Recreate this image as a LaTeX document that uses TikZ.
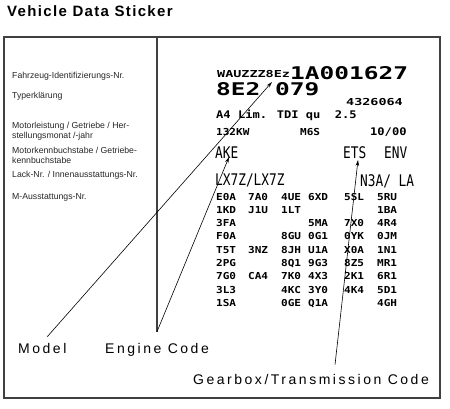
\documentclass[tikz,border=0pt]{standalone}
\usepackage{fontspec}
\setmainfont{Liberation Sans}
\newfontfamily\stickerwide[FakeStretch=1.4]{DejaVu Sans Mono}
\newfontfamily\stickerfont[FakeStretch=1.15]{DejaVu Sans Mono}
\newfontfamily\stickertall[FakeStretch=0.8]{DejaVu Sans Mono}
\usetikzlibrary{arrows.meta,positioning,calc}
\tikzset{
  heading/.style ={font=\fontsize{15}{18}\selectfont\bfseries\addfontfeature{LetterSpace=9},
                   anchor=base west, inner sep=0pt},
  fieldname/.style={font=\fontsize{8.7}{10}\selectfont, text=black!85, align=left,
                   anchor=north west, inner sep=0pt},
  widebig/.style ={font=\stickerwide\bfseries\fontsize{17.5}{19}\selectfont, anchor=base west, inner sep=0pt},
  widesm/.style  ={font=\stickerwide\bfseries\fontsize{9.6}{11}\selectfont, anchor=base west, inner sep=0pt},
  stick/.style   ={font=\stickerfont\bfseries\fontsize{9.6}{11}\selectfont, anchor=base west, inner sep=0pt},
  stickl/.style  ={font=\stickerfont\bfseries\fontsize{10.5}{12}\selectfont, anchor=base west, inner sep=0pt},
  tall/.style    ={font=\stickertall\fontsize{16}{18}\selectfont, anchor=base west, inner sep=0pt},
  callout/.style ={font=\fontsize{14}{16}\selectfont\addfontfeature{LetterSpace=18},
                   anchor=base west, inner sep=0pt},
  frame/.style   ={draw=black!75, line width=1.2pt},
  ptr/.style     ={-{Stealth[length=6pt,width=3.5pt]}, line width=0.6pt},
}
\begin{document}
\begin{tikzpicture}[x=1pt,y=-1pt]
\useasboundingbox (0,0) rectangle (450,408);
\node[heading] (title) at (7,16) {Vehicle Data Sticker};
% sticker outline
\draw[frame] (4,37) rectangle (440,398);
\draw[frame] (157,37) -- (157,332);
% field names
\node[fieldname] (vinfield)   at (12,72)  {Fahrzeug-Identifizierungs-Nr.};
\node[fieldname] (typefield)  at (12,92)  {Typerklärung};
\node[fieldname] (powerfield) at (12,122) {Motorleistung / Getriebe / Her-\\stellungsmonat /-jahr};
\node[fieldname] (codefield)  at (12,147) {Motorkennbuchstabe / Getriebe-\\kennbuchstabe};
\node[fieldname] (paintfield) at (12,171) {Lack-Nr. / Innenausstattungs-Nr.};
\node[fieldname] (optfield)   at (12,193) {M-Ausstattungs-Nr.};
% printed values
\node[widesm]  (vinhead)    at (217,77)  {WAUZZZ8Ez};
\node[widebig] (vinserial)  at (290,79)  {1A001627};
\node[widebig] (typecode)   at (216,95)  {8E2 079};
\node[widesm]  (typenum)    at (346,105) {4326064};
\node[stickl]  (typename)   at (216,118) {A4 Lim. TDI qu~~2.5};
\node[stick]   (power)      at (216,135) {132KW};
\node[stick]   (gearcode)   at (300,135) {M6S};
\node[stickl]  (builddate)  at (370,135) {10/00};
\node[tall]    (enginecode) at (215,158) {AKE};
\node[tall]    (gearbox)    at (343,158) {ETS};
\node[tall]    (gearboxb)   at (384,158) {ENV};
\node[tall]    (paint)      at (215,185) {LX7Z/LX7Z};
\node[tall]    (interior)   at (360,186) {N3A/ LA};
\foreach \row/\cells in {1/{1/E0A,2/7A0,3/4UE,4/6XD,5/5SL,6/5RU},
                         2/{1/1KD,2/J1U,3/1LT,6/1BA},
                         3/{1/3FA,4/5MA,5/7X0,6/4R4},
                         4/{1/F0A,3/8GU,4/0G1,5/0YK,6/0JM},
                         5/{1/T5T,2/3NZ,3/8JH,4/U1A,5/X0A,6/1N1},
                         6/{1/2PG,3/8Q1,4/9G3,5/8Z5,6/MR1},
                         7/{1/7G0,2/CA4,3/7K0,4/4X3,5/2K1,6/6R1},
                         8/{1/3L3,3/4KC,4/3Y0,5/4K4,6/5D1},
                         9/{1/1SA,3/0GE,4/Q1A,6/4GH}}
  \foreach \col/\code in \cells {
    \pgfmathsetmacro\cx{{216,248,281,308,344,377}[\col-1]}
    \node[stick] (opt\row\col) at (\cx,{200+13.3*(\row-1)}) {\code};
  }
% callouts
\node[callout] (model)  at (18,353)  {Model};
\node[callout] (engine) at (105,353) {Engine Code};
\node[callout] (trans)  at (193,384) {Gearbox/Transmission Code};
\coordinate (vinmark)    at (272,82);
\coordinate (enginemark) at (229,157);
\coordinate (gearmark)   at (358,160);
\draw[ptr] ([xshift=5pt,yshift=6pt]model.north) -- (vinmark);
\draw[ptr] ([yshift=11pt]engine.north) -- (enginemark);
\draw[ptr] ([xshift=24pt,yshift=9pt]trans.north) -- (gearmark);
\end{tikzpicture}
\end{document}
